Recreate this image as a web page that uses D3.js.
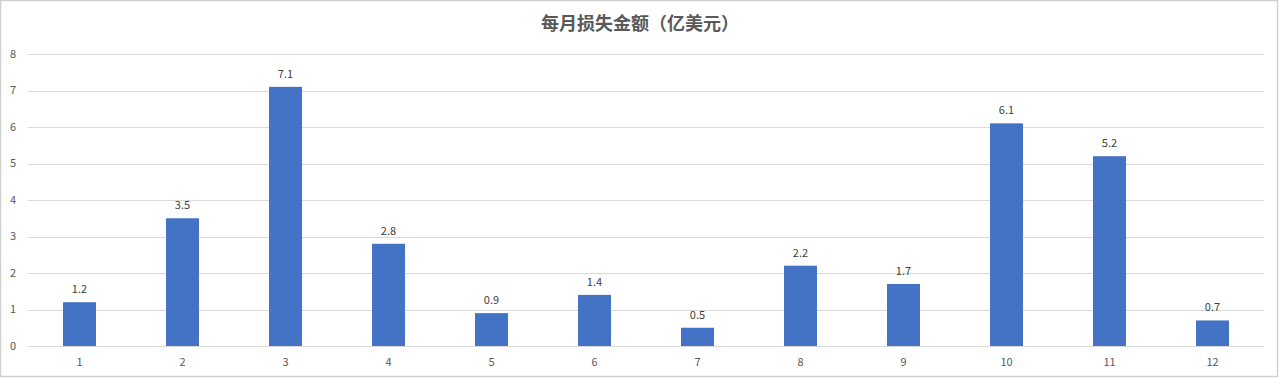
<!DOCTYPE html>
<html><head><meta charset="utf-8">
<script src="https://cdn.jsdelivr.net/npm/d3@7"></script>
<style>body{margin:0;background:#fff}svg{display:block}</style>
</head><body>
<svg id="c" width="1280" height="379"></svg>
<script>
const months = ["1","2","3","4","5","6","7","8","9","10","11","12"];
const losses = [1.2,3.5,7.1,2.8,0.9,1.4,0.5,2.2,1.7,6.1,5.2,0.7];
const yTicks = [0,1,2,3,4,5,6,7,8];
const title = "每月损失金额（亿美元）";

const svg = d3.select("#c");
const W = 1280, H = 379;
const m = {left:28, right:16, top:54, bottom:33};
svg.append("rect").attr("x",0.5).attr("y",0.5).attr("width",W-3).attr("height",H-3)
  .attr("fill","#fff").attr("stroke","#d0d0d0").attr("stroke-width",1.5);

const x = d3.scaleBand().domain(months).range([m.left, W-m.right]).paddingInner(0.68).paddingOuter(0.34);
const y = d3.scaleLinear().domain([0,8]).range([H-m.bottom, m.top]);

const font = "'Noto Sans CJK SC', 'Noto Sans', sans-serif";
svg.append("g").selectAll("line").data(yTicks).join("line")
  .attr("x1",m.left).attr("x2",W-m.right)
  .attr("y1",d=>Math.round(y(d))+0.5).attr("y2",d=>Math.round(y(d))+0.5)
  .attr("stroke","#d9d9d9").attr("stroke-width",1);

svg.append("g").selectAll("text").data(yTicks).join("text")
  .attr("x",16).attr("y",d=>y(d)).attr("dy","0.35em").attr("text-anchor","end")
  .attr("font-family",font).attr("font-size",11).attr("fill","#595959").text(d=>d);

svg.append("g").selectAll("rect").data(losses).join("rect")
  .attr("x",(d,i)=>x(months[i])).attr("width",x.bandwidth())
  .attr("y",d=>y(d)).attr("height",d=>y(0)-y(d)).attr("fill","#4472C4");

svg.append("g").selectAll("text").data(losses).join("text")
  .attr("x",(d,i)=>x(months[i])+x.bandwidth()/2).attr("y",d=>y(d)-9)
  .attr("text-anchor","middle").attr("font-family",font).attr("font-size",11)
  .attr("fill","#404040").text(d=>d.toFixed(1));

svg.append("g").selectAll("text").data(months).join("text")
  .attr("x",d=>x(d)+x.bandwidth()/2).attr("y",H-m.bottom+16).attr("dy","0.35em")
  .attr("text-anchor","middle").attr("font-family",font).attr("font-size",11)
  .attr("fill","#595959").text(d=>d);

svg.append("text").attr("x",640).attr("y",24).attr("dy","0.35em").attr("text-anchor","middle")
  .attr("font-family",font).attr("font-size",18).attr("font-weight","bold")
  .attr("fill","#595959").text(title);
</script>
</body></html>
